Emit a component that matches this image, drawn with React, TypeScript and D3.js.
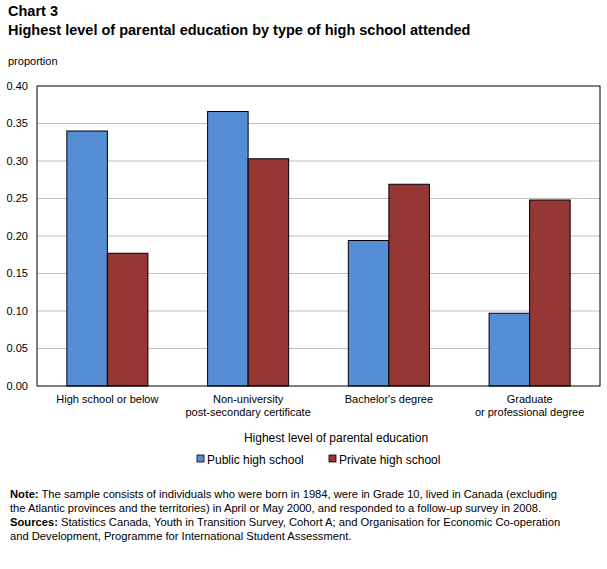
import { useMemo } from "react";
import * as d3 from "d3";

const categories: string[][] = [
  ["High school or below"],
  ["Non-university", "post-secondary certificate"],
  ["Bachelor's degree"],
  ["Graduate", "or professional degree"],
];
const seriesNames = ["Public high school", "Private high school"];
const publicValues = [0.34, 0.366, 0.194, 0.097];
const privateValues = [0.177, 0.303, 0.269, 0.248];
const yTicks = [0, 0.05, 0.1, 0.15, 0.2, 0.25, 0.3, 0.35, 0.4];

const COLORS = ["#558ED5", "#953735"];
const FONT = "Arial, 'Liberation Sans', sans-serif";
const PLOT = { left: 37, right: 600, top: 86, bottom: 386 };

export default function App() {
  const x = useMemo(
    () =>
      d3
        .scaleBand()
        .domain(categories.map((_, i) => String(i)))
        .range([PLOT.left, PLOT.right])
        .paddingInner(0)
        .paddingOuter(0),
    []
  );
  const y = useMemo(
    () => d3.scaleLinear().domain([0, 0.4]).range([PLOT.bottom, PLOT.top]),
    []
  );
  const barW = x.bandwidth() * 0.288;
  const series = [publicValues, privateValues];

  return (
    <svg
      width={607}
      height={569}
      style={{ position: "absolute", left: 0, top: 0, display: "block", fontFamily: FONT }}
    >
      <rect width={607} height={569} fill="#fff" />
      <text x={8} y={16} fontSize={14.5} fontWeight="bold">Chart 3</text>
      <text x={8} y={35} fontSize={14.5} fontWeight="bold">
        Highest level of parental education by type of high school attended
      </text>
      <text x={8} y={65} fontSize={11}>proportion</text>

      {/* gridlines + y ticks */}
      {yTicks.map((t) => (
        <g key={t}>
          {t > 0 && t < 0.4 && (
            <line x1={PLOT.left} x2={PLOT.right} y1={y(t)} y2={y(t)} stroke="#bfbfbf" />
          )}
          <text x={28} y={y(t)} dy="0.35em" textAnchor="end" fontSize={11}>
            {t.toFixed(2)}
          </text>
        </g>
      ))}

      {/* bars */}
      {categories.map((_, i) => {
        const cx = (x(String(i)) ?? 0) + x.bandwidth() / 2;
        return series.map((vals, s) => (
          <rect
            key={`${i}-${s}`}
            x={cx - barW + s * barW}
            y={y(vals[i])}
            width={barW}
            height={y(0) - y(vals[i])}
            fill={COLORS[s]}
            stroke="#000"
            strokeWidth={1}
          />
        ));
      })}

      {/* plot frame */}
      <rect
        x={PLOT.left}
        y={PLOT.top}
        width={PLOT.right - PLOT.left}
        height={PLOT.bottom - PLOT.top}
        fill="none"
        stroke="#000"
        strokeWidth={1}
      />

      {/* category labels */}
      {categories.map((lines, i) => {
        const cx = (x(String(i)) ?? 0) + x.bandwidth() / 2;
        return lines.map((ln, k) => (
          <text key={`${i}-${k}`} x={cx} y={403 + k * 13} textAnchor="middle" fontSize={11}>
            {ln}
          </text>
        ));
      })}

      <text x={336} y={442} textAnchor="middle" fontSize={12}>
        Highest level of parental education
      </text>

      {/* legend */}
      {seriesNames.map((name, s) => {
        const lx = s === 0 ? 197 : 329;
        return (
          <g key={name}>
            <rect x={lx} y={455} width={7} height={7} fill={COLORS[s]} stroke="#000" strokeWidth={0.8} />
            <text x={lx + 10} y={464} fontSize={12}>{name}</text>
          </g>
        );
      })}

      {/* notes */}
      <text x={10} y={498} fontSize={11.2}>
        <tspan fontWeight="bold">Note:</tspan> The sample consists of individuals who were born in 1984, were in Grade 10, lived in Canada (excluding
      </text>
      <text x={10} y={512} fontSize={11.2}>
        the Atlantic provinces and the territories) in April or May 2000, and responded to a follow-up survey in 2008.
      </text>
      <text x={10} y={526} fontSize={11.2}>
        <tspan fontWeight="bold">Sources:</tspan> Statistics Canada, Youth in Transition Survey, Cohort A; and Organisation for Economic Co-operation
      </text>
      <text x={10} y={540} fontSize={11.2}>
        and Development, Programme for International Student Assessment.
      </text>
    </svg>
  );
}
